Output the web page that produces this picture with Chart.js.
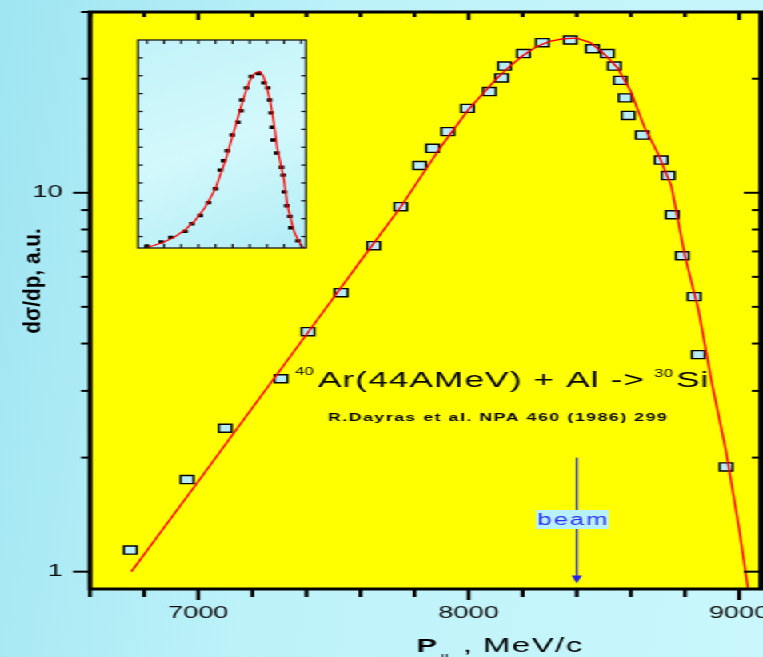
<!DOCTYPE html>
<html>
<head>
<meta charset="utf-8">
<script src="https://cdn.jsdelivr.net/npm/chart.js@4.4.1/dist/chart.umd.min.js"></script>
<style>
html, body { margin: 0; padding: 0; overflow: hidden; }
body {
    width: 763px; height: 657px;
    background: linear-gradient(100deg, #9fe5f2 0%, #bdf2f9 40%, #c9f7fc 100%);
}
/* plot is laid out on a narrow canvas and widened horizontally */
#wrap { position: absolute; left: 0; top: 0; width: 477px; height: 657px; transform: scaleX(1.5996); transform-origin: 0 0; }
#main { position: absolute; left: 0; top: 0; }
#inset { position: absolute; left: 84px; top: 38px; }
</style>
</head>
<body>
<div id="wrap">
    <canvas id="main" width="477" height="657"></canvas>
    <canvas id="inset" width="110" height="212"></canvas>
</div>
<script>
/* ------------------------------------------------------------
   DATA  (P_par in MeV/c, dsigma/dp in arbitrary units)
   ------------------------------------------------------------ */
const P_DATA    = [6749, 6959, 7100, 7306, 7406, 7528, 7649, 7749, 7819, 7867, 7923, 7996, 8077, 8122, 8133, 8203,
                   8273, 8376, 8458, 8513, 8539, 8561, 8579, 8590, 8642, 8712, 8738, 8753, 8790, 8834, 8849, 8952];
const DSIG_DATA = [1.14, 1.75, 2.39, 3.23, 4.30, 5.45, 7.25, 9.19, 11.8, 13.1, 14.5, 16.7, 18.5, 20.1, 21.6, 23.3,
                   24.9, 25.3, 24.0, 23.3, 21.6, 19.8, 17.8, 16.0, 14.2, 12.2, 11.1, 8.75, 6.82, 5.32, 3.74, 1.89];

// fitted curve (red)
const FIT_P = [6753, 6850, 7000, 7150, 7300, 7450, 7600, 7750, 7900, 8000, 8100, 8150, 8200, 8250, 8300, 8350,
               8400, 8450, 8500, 8550, 8600, 8650, 8700, 8750, 8800, 8850, 8900, 8950, 9000, 9035];
const FIT_Y = [1.00, 1.24, 1.73, 2.42, 3.38, 4.72, 6.60, 9.20, 13.3, 16.6, 19.9, 21.5, 23.0, 24.3, 25.1, 25.5,
               25.6, 24.9, 23.3, 21.4, 18.5, 14.9, 12.7, 10.4, 6.80, 4.90, 3.13, 2.11, 1.30, 0.88];

// axes
const X_LABELS = [7000, 8000, 9000];
const X_TICKS  = [6600, 6800, 7000, 7200, 7400, 7600, 7800, 8000, 8200, 8400, 8600, 8800, 9000];
const Y_LABELS = [1, 10];
const Y_TICKS  = [1, 2, 3, 4, 5, 6, 7, 8, 9, 10, 20, 30];

// inset (same spectrum on a linear scale)
const INSET_X_TICKS = [6750, 7000, 7250, 7500, 7750, 8000, 8250, 8500, 8750, 9000];
const INSET_Y_TICKS = [2.5, 5, 7.5, 10, 12.5, 15, 17.5, 20, 22.5, 25, 27.5];

// beam momentum marker
const BEAM_P = 8400;
const BEAM_FROM = 2.0;
const BEAM_TO = 0.93;

const FONT = "'Liberation Sans', Arial, sans-serif";

const dataPts = P_DATA.map((p, i) => ({ x: p, y: DSIG_DATA[i] }));
const fitPts  = FIT_P.map((p, i) => ({ x: p, y: FIT_Y[i] }));

function seg(ctx, x1, y1, x2, y2) {
    ctx.beginPath();
    ctx.moveTo(x1, y1);
    ctx.lineTo(x2, y2);
    ctx.stroke();
}

// no extra room for overhanging tick labels
function noLabelPadding(s) {
    s.paddingLeft = 0;
    s.paddingRight = 0;
    s.paddingTop = 0;
    s.paddingBottom = 0;
}

/* ------------------------------------------------------------
   MAIN PLOT DECORATION: yellow frame, ticks, labels, beam arrow
   ------------------------------------------------------------ */
const mainDecor = {
    id: 'mainDecor',
    beforeDraw(chart) {
        const { ctx, chartArea: a } = chart;
        ctx.save();
        ctx.fillStyle = '#ffff00';
        ctx.fillRect(a.left, a.top, a.right - a.left, a.bottom - a.top);
        ctx.restore();
    },
    afterDraw(chart) {
        const { ctx, chartArea: a, scales: { x, y } } = chart;
        ctx.save();
        ctx.strokeStyle = '#000';

        // x ticks: outward at bottom, inward at top
        ctx.lineWidth = 2.4;
        X_TICKS.forEach(v => {
            const px = x.getPixelForValue(v);
            const big = X_LABELS.includes(v);
            seg(ctx, px, a.bottom, px, a.bottom + (big ? 11 : 8));
            seg(ctx, px, a.top, px, a.top + (big ? 8 : 5));
        });
        // y ticks: outward at left, inward at right
        ctx.lineWidth = 2;
        Y_TICKS.forEach(v => {
            const py = y.getPixelForValue(v);
            const len = Y_LABELS.includes(v) ? 10.6 : 5.6;
            seg(ctx, a.left - len, py, a.left, py);
            seg(ctx, a.right - len, py, a.right, py);
        });
        ctx.lineWidth = 3;
        ctx.strokeRect(a.left, a.top, a.right - a.left, a.bottom - a.top);

        // beam arrow
        const bx = x.getPixelForValue(BEAM_P);
        const yTop = y.getPixelForValue(BEAM_FROM);
        const yTip = y.getPixelForValue(BEAM_TO);
        ctx.strokeStyle = '#1f1ff0';
        ctx.fillStyle = '#1f1ff0';
        ctx.lineWidth = 1.3;
        seg(ctx, bx, yTop, bx, yTip - 6);
        ctx.beginPath();
        ctx.moveTo(bx - 3.2, yTip - 8);
        ctx.lineTo(bx + 3.2, yTip - 8);
        ctx.lineTo(bx, yTip);
        ctx.closePath();
        ctx.fill();
        // beam label
        const lx = bx - 2.7;
        ctx.fillStyle = '#b9f1f8';
        ctx.fillRect(lx - 22.8, 510, 45.6, 19);
        ctx.fillStyle = '#2a2af5';
        ctx.font = `16px ${FONT}`;
        ctx.letterSpacing = '1.2px';
        ctx.textAlign = 'center';
        ctx.textBaseline = 'alphabetic';
        ctx.fillText('beam', lx + 0.6, 525);

        // reaction label
        ctx.fillStyle = '#000';
        ctx.textAlign = 'left';
        ctx.letterSpacing = '0px';
        ctx.font = `10.5px ${FONT}`;
        ctx.fillText('40', 184.4, 375);
        ctx.font = `22px ${FONT}`;
        ctx.letterSpacing = '0.7px';
        const mainTxt = 'Ar(44AMeV) + Al -> ';
        ctx.fillText(mainTxt, 198.7, 387);
        let cx = 198.7 + ctx.measureText(mainTxt).width;
        ctx.letterSpacing = '0px';
        ctx.font = `10.5px ${FONT}`;
        ctx.fillText('30', cx - 1, 377);
        cx += ctx.measureText('30').width + 1;
        ctx.font = `22px ${FONT}`;
        ctx.letterSpacing = '0.7px';
        ctx.fillText('Si', cx, 387);

        ctx.font = `bold 11px ${FONT}`;
        ctx.letterSpacing = '1px';
        ctx.fillText('R.Dayras et al. NPA 460 (1986) 299', 205, 421);

        // axis titles
        ctx.letterSpacing = '0px';
        ctx.font = `bold 19px ${FONT}`;
        ctx.fillText('P', 260.6, 652);
        ctx.font = `10px ${FONT}`;
        ctx.fillText('||', 275.5, 662);
        ctx.font = `20.5px ${FONT}`;
        ctx.fillText(',', 289.5, 652);
        ctx.letterSpacing = '1px';
        ctx.fillText('MeV/c', 301.9, 652);

        ctx.letterSpacing = '0px';
        ctx.translate(21, 281);
        ctx.rotate(-Math.PI / 2);
        ctx.scale(1.34, 1);
        ctx.font = `bold 15.5px ${FONT}`;
        ctx.textAlign = 'center';
        ctx.textBaseline = 'middle';
        ctx.fillText('d\u03c3/dp, a.u.', 0, 0);
        ctx.restore();
    }
};

const mainChart = new Chart(document.getElementById('main'), {
    type: 'scatter',
    data: {
        datasets: [
            {
                type: 'line',
                data: fitPts,
                borderColor: '#ff0000',
                borderWidth: 1.4,
                pointRadius: 0,
                tension: 0
            },
            {
                data: dataPts,
                pointStyle: 'rect',
                pointRadius: 5.7,
                backgroundColor: '#b9eef7',
                borderColor: '#000',
                borderWidth: 1.4
            }
        ]
    },
    options: {
        responsive: false,
        animation: false,
        devicePixelRatio: 1,
        events: [],
        layout: { autoPadding: false, padding: { top: 12, right: 1.4, left: 0, bottom: 0 } },
        plugins: { legend: { display: false }, tooltip: { enabled: false } },
        scales: {
            x: {
                type: 'linear',
                min: 6600,
                max: 9080,
                afterFit(s) { s.height = 68; noLabelPadding(s); },
                afterBuildTicks(s) { s.ticks = X_LABELS.map(v => ({ value: v })); },
                grid: { display: false, drawTicks: false },
                border: { display: false },
                ticks: {
                    color: '#111',
                    font: { family: FONT, size: 17 },
                    padding: 14,
                    maxRotation: 0,
                    autoSkip: false,
                    callback: v => String(v)
                }
            },
            y: {
                type: 'logarithmic',
                min: 0.9,
                max: 30,
                afterFit(s) { s.width = 56.25; noLabelPadding(s); },
                afterBuildTicks(s) { s.ticks = Y_LABELS.map(v => ({ value: v })); },
                grid: { display: false, drawTicks: false },
                border: { display: false },
                ticks: {
                    color: '#111',
                    font: { family: FONT, size: 17 },
                    padding: 17,
                    autoSkip: false,
                    callback: v => String(v)
                }
            }
        }
    },
    plugins: [mainDecor]
});

/* ------------------------------------------------------------
   INSET (linear scale)
   ------------------------------------------------------------ */
const insetDecor = {
    id: 'insetDecor',
    beforeDraw(chart) {
        const { ctx, chartArea: a } = chart;
        const g = ctx.createLinearGradient(a.left, a.top, a.right, a.bottom);
        g.addColorStop(0, '#c2f3f9');
        g.addColorStop(0.5, '#d4f9fc');
        g.addColorStop(1, '#b2edf6');
        ctx.save();
        ctx.fillStyle = g;
        ctx.fillRect(a.left, a.top, a.right - a.left, a.bottom - a.top);
        ctx.restore();
    },
    afterDraw(chart) {
        const { ctx, chartArea: a, scales: { x, y } } = chart;
        ctx.save();
        ctx.strokeStyle = '#1a1a1a';
        ctx.lineWidth = 1.2;
        INSET_X_TICKS.forEach(v => {
            const px = x.getPixelForValue(v);
            seg(ctx, px, a.bottom, px, a.bottom - 4);
            seg(ctx, px, a.top, px, a.top + 4);
        });
        ctx.lineWidth = 1.3;
        INSET_Y_TICKS.forEach(v => {
            const py = y.getPixelForValue(v);
            seg(ctx, a.left, py, a.left + 3, py);
            seg(ctx, a.right, py, a.right - 3, py);
        });
        ctx.strokeRect(a.left, a.top, a.right - a.left, a.bottom - a.top);
        ctx.restore();
    }
};

const insetChart = new Chart(document.getElementById('inset'), {
    type: 'scatter',
    data: {
        datasets: [
            {
                type: 'line',
                data: fitPts,
                borderColor: '#ff0000',
                borderWidth: 1.2,
                pointRadius: 0,
                tension: 0
            },
            {
                data: dataPts,
                pointStyle: 'rect',
                pointRadius: 2.4,
                backgroundColor: '#000',
                borderColor: '#000',
                borderWidth: 0
            }
        ]
    },
    options: {
        responsive: false,
        animation: false,
        devicePixelRatio: 1,
        events: [],
        layout: { autoPadding: false, padding: { left: 2.25, right: 2.75, top: 2, bottom: 2 } },
        plugins: { legend: { display: false }, tooltip: { enabled: false } },
        scales: {
            x: { type: 'linear', display: false, min: 6620, max: 9070 },
            y: { type: 'linear', display: false, min: 0.9, max: 30 }
        }
    },
    plugins: [insetDecor]
});
</script>
</body>
</html>
